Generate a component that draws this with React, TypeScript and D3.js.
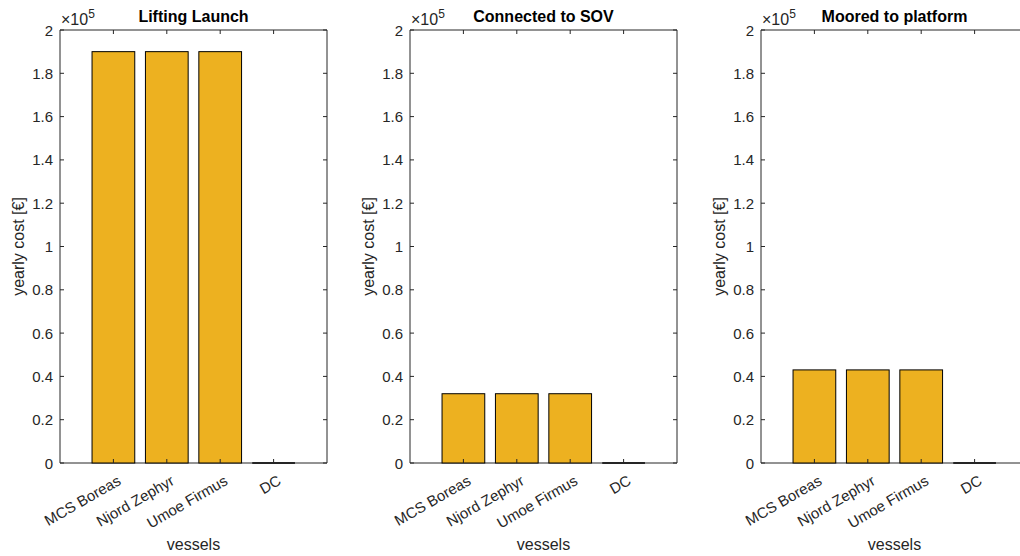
import React from "react";
import * as d3 from "d3";

const vessels = ["MCS Boreas", "Njord Zephyr", "Umoe Firmus", "DC"];
const panelTitles = ["Lifting Launch", "Connected to SOV", "Moored to platform"];
const liftingLaunch = [1.9, 1.9, 1.9, 0];
const connectedToSOV = [0.32, 0.32, 0.32, 0];
const mooredToPlatform = [0.43, 0.43, 0.43, 0];
const yTicks = [0, 0.2, 0.4, 0.6, 0.8, 1, 1.2, 1.4, 1.6, 1.8, 2];
const yTickLabels = ["0", "0.2", "0.4", "0.6", "0.8", "1", "1.2", "1.4", "1.6", "1.8", "2"];

const seriesList = [liftingLaunch, connectedToSOV, mooredToPlatform];
const panelLefts = [60, 410, 761];
const W = 267;
const top = 30;
const bottom = 463;
const FONT = "'Liberation Sans', Arial, Helvetica, sans-serif";
const TXT = "#262626";
const AX = "#262626";

function Panel({ left, title, values }: { left: number; title: string; values: number[] }) {
  const x = d3.scaleLinear().domain([0, vessels.length + 1]).range([left, left + W]);
  const y = d3.scaleLinear().domain([0, 2]).range([bottom, top]);
  const bw = (x(1) - x(0)) * 0.8;
  const tl = 4;
  return (
    <g fontFamily={FONT}>
      {/* box */}
      <line x1={left} x2={left + W} y1={bottom} y2={bottom} stroke={AX} strokeWidth={1} />
      <line x1={left} x2={left + W} y1={top} y2={top} stroke={AX} strokeWidth={1} />
      <line x1={left} x2={left} y1={top} y2={bottom} stroke={AX} strokeWidth={1} />
      <line x1={left + W} x2={left + W} y1={top} y2={bottom} stroke={AX} strokeWidth={1} />
      {/* bars */}
      {values.map((v, i) =>
        v > 0 ? (
          <rect
            key={i}
            x={x(i + 1) - bw / 2}
            y={y(v)}
            width={bw}
            height={y(0) - y(v)}
            fill="#EDB120"
            stroke="#000"
            strokeWidth={1}
          />
        ) : (
          <line
            key={i}
            x1={x(i + 1) - bw / 2}
            x2={x(i + 1) + bw / 2}
            y1={y(0)}
            y2={y(0)}
            stroke="#000"
            strokeWidth={1.5}
          />
        )
      )}
      {/* y ticks */}
      {yTicks.map((t, i) => (
        <g key={i}>
          <line x1={left} x2={left + tl} y1={y(t)} y2={y(t)} stroke={AX} />
          <line x1={left + W} x2={left + W - tl} y1={y(t)} y2={y(t)} stroke={AX} />
          <text x={left - 7} y={y(t)} textAnchor="end" dominantBaseline="central" fontSize={15} fill={TXT}>
            {yTickLabels[i]}
          </text>
        </g>
      ))}
      {/* x ticks */}
      {vessels.map((v, i) => (
        <g key={v}>
          <line x1={x(i + 1)} x2={x(i + 1)} y1={bottom} y2={bottom - tl} stroke={AX} />
          <line x1={x(i + 1)} x2={x(i + 1)} y1={top} y2={top + tl} stroke={AX} />
          <text
            transform={`translate(${x(i + 1) + 3},${bottom + 11}) rotate(-30)`}
            textAnchor="end"
            dominantBaseline="hanging"
            fontSize={15}
            fill={TXT}
          >
            {v}
          </text>
        </g>
      ))}
      {/* exponent */}
      <text x={left + 1} y={25} fontSize={16} fill={TXT}>
        ×10<tspan dy={-7} fontSize={12}>5</tspan>
      </text>
      {/* title */}
      <text x={left + W / 2} y={22} textAnchor="middle" fontSize={16} fontWeight="bold" fill="#000">
        {title}
      </text>
      {/* axis labels */}
      <text x={left + W / 2} y={550} textAnchor="middle" fontSize={16} fill={TXT}>
        vessels
      </text>
      <text
        transform={`translate(${left - 36},${(top + bottom) / 2}) rotate(-90)`}
        textAnchor="middle"
        fontSize={16}
        fill={TXT}
      >
        yearly cost [€]
      </text>
    </g>
  );
}

export default function App() {
  return (
    <svg
      width={1020}
      height={556}
      style={{ position: "absolute", left: 0, top: 0, background: "#fff" }}
    >
      <rect width={1020} height={556} fill="#fff" />
      {panelTitles.map((t, i) => (
        <Panel key={t} left={panelLefts[i]} title={t} values={seriesList[i]} />
      ))}
    </svg>
  );
}
